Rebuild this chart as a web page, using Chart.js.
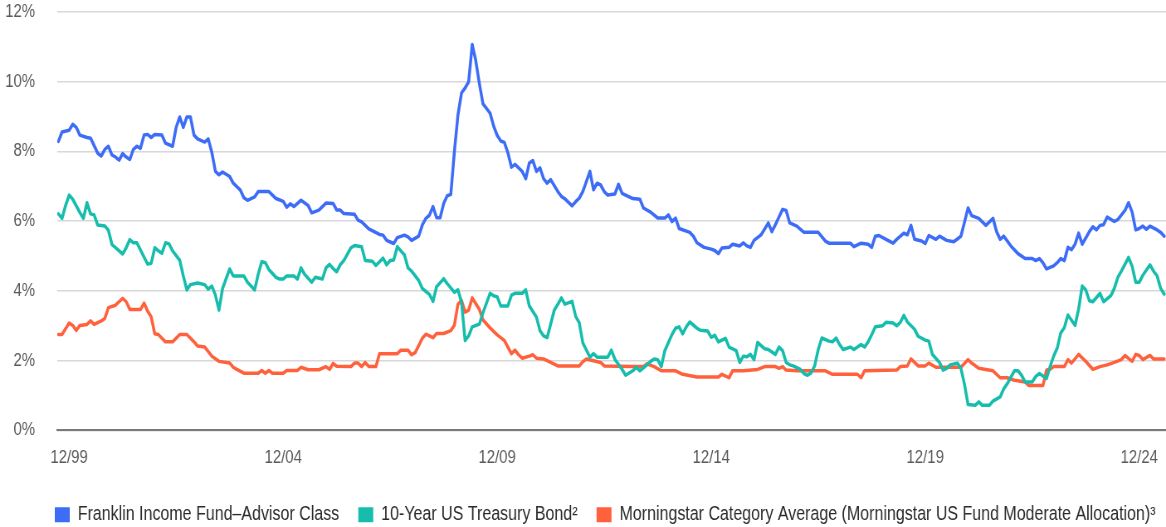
<!DOCTYPE html>
<html>
<head>
<meta charset="utf-8">
<script src="https://cdn.jsdelivr.net/npm/chart.js@4.4.1/dist/chart.umd.min.js"></script>
<style>
  html, body { margin: 0; padding: 0; background: #ffffff; overflow: hidden; }
  #c { display: block; }
</style>
</head>
<body>
<!-- bitmap is drawn wider and shown at 1166px so the text gets the same narrow look as the reference -->
<canvas id="c" width="1405" height="527" style="width:1166px;height:527px"></canvas>
<script>
// ---- Data (x = months after 12/99, y = yield in %) ----
const seriesLabels = [
  'Franklin Income Fund\u2013Advisor Class',
  '10-Year US Treasury Bond\u00B2',
  'Morningstar Category Average (Morningstar US Fund Moderate Allocation)\u00B3'
];

const fundYield = [[-3,8.29],[-2,8.56],[0,8.61],[1,8.78],[2,8.69],[3,8.47],[5,8.40],[6,8.38],[8,7.95],[9,7.87],[10,8.06],[11,8.15],[12,7.90],[13,7.84],[14,7.75],[15,7.94],[16,7.84],[17,7.77],[18,8.06],[19,8.15],[20,8.09],[21,8.47],[22,8.49],[23,8.40],[24,8.49],[26,8.47],[27,8.24],[29,8.15],[30,8.69],[31,8.99],[32,8.69],[33,8.99],[34,8.99],[35,8.47],[36,8.36],[38,8.27],[39,8.36],[40,7.97],[41,7.43],[42,7.33],[43,7.41],[45,7.28],[46,7.09],[48,6.89],[49,6.67],[50,6.60],[52,6.70],[53,6.85],[56,6.85],[57,6.75],[58,6.65],[60,6.57],[61,6.40],[62,6.50],[63,6.42],[65,6.60],[67,6.45],[68,6.24],[70,6.32],[72,6.52],[74,6.51],[75,6.32],[76,6.32],[77,6.22],[80,6.20],[81,6.03],[82,5.98],[84,5.78],[87,5.62],[88,5.60],[89,5.45],[91,5.36],[92,5.53],[94,5.60],[95,5.55],[96,5.45],[98,5.57],[99,5.89],[100,6.08],[101,6.17],[102,6.42],[103,6.10],[104,6.10],[105,6.51],[106,6.73],[107,6.77],[108,8.00],[109,9.05],[110,9.68],[111,9.82],[112,10.00],[113,11.07],[114,10.60],[115,9.95],[116,9.37],[118,9.10],[119,8.73],[120,8.46],[121,8.30],[122,8.26],[123,7.96],[124,7.55],[125,7.63],[127,7.43],[128,7.22],[129,7.67],[130,7.74],[131,7.43],[132,7.53],[133,7.22],[134,7.09],[135,7.19],[137,6.85],[138,6.71],[139,6.64],[141,6.44],[142,6.56],[143,6.66],[144,6.85],[146,7.43],[147,6.90],[148,7.09],[149,7.04],[150,6.85],[151,6.75],[153,6.78],[154,7.06],[155,6.80],[157,6.70],[158,6.65],[160,6.63],[161,6.38],[163,6.26],[165,6.09],[167,6.09],[168,6.18],[169,5.99],[170,6.09],[171,5.79],[174,5.68],[175,5.57],[176,5.38],[178,5.25],[180,5.20],[181,5.16],[182,5.07],[183,5.23],[185,5.25],[186,5.34],[188,5.29],[189,5.38],[190,5.29],[191,5.25],[192,5.45],[194,5.61],[196,5.95],[197,5.70],[198,5.90],[199,6.12],[200,6.34],[201,6.31],[202,5.95],[204,5.86],[206,5.68],[210,5.68],[212,5.43],[213,5.37],[219,5.37],[220,5.27],[222,5.37],[224,5.34],[225,5.25],[226,5.57],[227,5.59],[229,5.48],[231,5.37],[232,5.48],[234,5.66],[235,5.61],[236,5.88],[237,5.48],[239,5.43],[240,5.36],[241,5.59],[243,5.48],[244,5.57],[246,5.45],[248,5.41],[250,5.57],[251,5.97],[252,6.38],[253,6.16],[255,6.08],[257,5.88],[259,6.08],[260,5.70],[261,5.48],[262,5.57],[264,5.29],[266,5.07],[268,4.93],[270,4.93],[271,4.87],[272,4.93],[273,4.81],[274,4.63],[276,4.72],[277,4.81],[278,4.93],[279,4.87],[280,5.25],[281,5.18],[282,5.34],[283,5.66],[284,5.34],[286,5.70],[287,5.84],[288,5.75],[289,5.88],[290,5.90],[291,6.12],[293,5.99],[294,6.05],[296,6.31],[297,6.53],[298,6.26],[299,5.75],[300,5.79],[301,5.86],[302,5.77],[303,5.86],[305,5.75],[306,5.68],[307,5.57]];

const treasuryYield = [[-3,6.21],[-2,6.08],[-1,6.45],[0,6.75],[1,6.63],[3,6.25],[4,6.08],[5,6.53],[6,6.21],[7,6.18],[8,5.89],[10,5.86],[11,5.74],[12,5.33],[13,5.24],[15,5.06],[16,5.24],[17,5.47],[18,5.38],[19,5.38],[21,4.97],[22,4.77],[23,4.79],[24,5.24],[25,5.15],[26,5.08],[27,5.38],[28,5.35],[29,5.15],[31,4.88],[32,4.43],[33,4.03],[34,4.18],[36,4.23],[38,4.18],[39,4.05],[40,4.14],[41,3.88],[42,3.45],[43,4.07],[45,4.63],[46,4.43],[49,4.43],[50,4.25],[52,4.03],[53,4.48],[54,4.84],[55,4.81],[56,4.61],[58,4.39],[59,4.34],[60,4.34],[61,4.43],[63,4.43],[64,4.34],[65,4.66],[66,4.48],[68,4.25],[69,4.39],[71,4.34],[72,4.66],[73,4.76],[74,4.64],[75,4.55],[76,4.75],[77,4.87],[79,5.24],[80,5.30],[82,5.27],[83,4.87],[85,4.85],[86,4.73],[88,4.94],[89,4.75],[90,4.87],[91,4.89],[92,5.27],[94,5.03],[95,4.66],[96,4.57],[98,4.30],[99,4.07],[101,3.90],[102,3.70],[103,4.12],[105,4.35],[106,4.21],[108,3.96],[109,4.03],[110,3.68],[111,2.58],[112,2.71],[113,2.97],[115,3.05],[116,3.37],[118,3.93],[119,3.86],[120,3.83],[121,3.57],[123,3.57],[124,3.88],[125,3.93],[127,3.93],[128,4.03],[129,3.57],[131,3.25],[132,2.86],[133,2.71],[134,2.66],[136,3.45],[137,3.62],[138,3.80],[139,3.62],[141,3.70],[142,3.27],[143,3.09],[144,2.51],[146,2.10],[147,2.20],[148,2.10],[151,2.10],[152,2.30],[153,2.04],[155,1.75],[156,1.58],[158,1.71],[159,1.81],[160,1.71],[162,1.88],[163,1.98],[164,2.05],[165,2.03],[166,1.83],[167,2.29],[169,2.75],[170,2.93],[171,2.97],[172,2.77],[173,2.97],[174,3.11],[176,2.93],[177,2.87],[179,2.85],[180,2.67],[181,2.73],[182,2.54],[184,2.64],[185,2.39],[187,2.29],[188,1.95],[189,2.13],[190,2.11],[191,2.18],[192,2.03],[193,2.52],[195,2.34],[196,2.32],[198,2.18],[199,2.39],[200,2.29],[201,1.95],[202,1.88],[203,1.85],[205,1.75],[206,1.63],[207,1.58],[208,1.65],[209,1.85],[210,2.32],[211,2.65],[213,2.56],[214,2.54],[215,2.65],[216,2.46],[217,2.32],[219,2.39],[220,2.32],[221,2.39],[222,2.46],[223,2.39],[224,2.54],[225,2.75],[226,2.97],[228,3.00],[229,3.10],[231,3.08],[232,3.00],[233,3.10],[234,3.30],[235,3.11],[237,2.90],[238,2.70],[240,2.59],[241,2.56],[242,2.18],[244,1.95],[245,1.73],[246,1.78],[247,1.88],[249,1.93],[250,1.78],[251,1.32],[252,0.74],[254,0.72],[255,0.82],[256,0.72],[258,0.72],[259,0.84],[261,0.96],[262,1.19],[263,1.34],[265,1.71],[266,1.71],[267,1.58],[268,1.39],[270,1.39],[271,1.55],[272,1.63],[274,1.49],[275,1.83],[276,2.13],[277,2.36],[278,2.80],[279,2.95],[280,3.31],[282,3.01],[283,3.48],[284,4.14],[285,4.03],[286,3.72],[287,3.69],[289,3.93],[290,3.69],[292,3.86],[293,4.07],[294,4.39],[295,4.57],[297,4.96],[298,4.71],[299,4.25],[300,4.25],[301,4.45],[303,4.75],[304,4.57],[305,4.43],[306,4.07],[307,3.91]];

const categoryYield = [[-3,2.75],[-2,2.75],[0,3.08],[1,3.01],[2,2.87],[3,3.01],[5,3.04],[6,3.14],[7,3.04],[9,3.14],[10,3.21],[11,3.52],[13,3.59],[15,3.79],[16,3.69],[17,3.47],[20,3.47],[21,3.65],[22,3.42],[23,3.26],[24,2.77],[25,2.75],[27,2.54],[29,2.54],[31,2.75],[33,2.75],[35,2.54],[36,2.42],[38,2.39],[40,2.13],[42,1.98],[45,1.93],[46,1.81],[47,1.75],[49,1.64],[53,1.64],[54,1.72],[55,1.64],[56,1.72],[57,1.64],[60,1.64],[61,1.72],[64,1.72],[65,1.81],[67,1.74],[70,1.74],[72,1.83],[73,1.75],[74,1.92],[75,1.84],[79,1.83],[80,1.93],[81,1.93],[82,1.83],[83,1.95],[84,1.83],[86,1.83],[87,2.20],[92,2.20],[93,2.30],[95,2.30],[96,2.17],[97,2.23],[99,2.64],[100,2.76],[102,2.66],[103,2.78],[105,2.78],[107,2.86],[108,3.02],[109,3.62],[110,3.73],[111,3.39],[112,3.45],[113,3.80],[115,3.47],[116,3.17],[118,2.94],[120,2.74],[121,2.66],[122,2.58],[124,2.20],[125,2.30],[126,2.17],[127,2.07],[129,2.13],[130,2.17],[131,2.07],[133,2.05],[135,1.95],[137,1.85],[143,1.85],[144,1.97],[145,2.05],[147,2.00],[149,1.95],[150,1.85],[158,1.83],[161,1.83],[162,1.91],[164,1.83],[166,1.71],[170,1.71],[172,1.61],[176,1.53],[182,1.53],[183,1.61],[185,1.51],[186,1.71],[189,1.71],[193,1.75],[195,1.83],[198,1.83],[199,1.78],[200,1.83],[201,1.73],[204,1.71],[212,1.71],[214,1.61],[221,1.61],[222,1.51],[223,1.71],[232,1.73],[233,1.83],[235,1.85],[236,2.05],[238,1.85],[240,1.85],[241,1.93],[243,1.81],[250,1.81],[252,2.03],[253,1.93],[255,1.78],[259,1.71],[261,1.51],[263,1.51],[265,1.44],[268,1.39],[269,1.29],[273,1.29],[274,1.73],[275,1.75],[276,1.83],[279,1.83],[280,2.03],[281,1.93],[283,2.18],[285,1.98],[287,1.75],[289,1.83],[291,1.88],[293,1.95],[295,2.03],[296,2.15],[298,1.98],[299,2.18],[300,2.15],[301,2.03],[303,2.15],[304,2.05],[307,2.05]];

const xTickMonths = [0, 60, 120, 180, 240, 300];
const xTickLabels = ['12/99', '12/04', '12/09', '12/14', '12/19', '12/24'];
const yTickValues = [0, 2, 4, 6, 8, 10, 12];

// ---- Styling ----
const COLORS = ['#3d6cf6', '#16bdac', '#ff613d'];
const FONT = '"Liberation Sans", Arial, sans-serif';
const CLEAR = 'rgba(0,0,0,0)';
const toPoints = arr => arr.map(p => ({ x: p[0], y: p[1] }));
const allSeries = [fundYield, treasuryYield, categoryYield];

// moves the legend row to the right so that it lines up under the plot
const legendShift = {
  id: 'legendShift',
  afterLayout(chart) {
    if (chart.legend) { chart.legend.left += 43; chart.legend.right += 43; }
  }
};

new Chart(document.getElementById('c'), {
  type: 'line',
  plugins: [legendShift],
  data: {
    datasets: allSeries.map((s, i) => ({
      label: seriesLabels[i],
      data: toPoints(s),
      borderColor: COLORS[i],
      backgroundColor: COLORS[i],
      borderWidth: 3.5,
      pointRadius: 0,
      pointHoverRadius: 0,
      tension: 0,
      borderJoinStyle: 'round',
      borderCapStyle: 'round',
      fill: false
    }))
  },
  options: {
    responsive: false,
    animation: false,
    devicePixelRatio: 1,
    events: [],
    layout: { padding: { left: 0, right: 0, top: 12, bottom: -7.5 } },
    scales: {
      x: {
        type: 'linear',
        min: -3.4,
        max: 307.5,
        grid: { display: true, drawOnChartArea: false, drawTicks: true, tickLength: 16.5, tickColor: CLEAR, color: CLEAR },
        border: { display: true, color: '#7a7a7a', width: 2 },
        afterBuildTicks: axis => { axis.ticks = xTickMonths.map(v => ({ value: v })); },
        afterFit: axis => { axis.height = 51.8; },
        ticks: {
          autoSkip: false,
          maxRotation: 0,
          padding: 0,
          color: '#5a5a5a',
          font: { family: FONT, size: 18 },
          callback: v => { const i = xTickMonths.indexOf(v); return i >= 0 ? xTickLabels[i] : ''; }
        }
      },
      y: {
        type: 'linear',
        min: 0,
        max: 12,
        grid: { color: '#d8d8d8', lineWidth: 1.6, drawTicks: true, tickLength: 26.5, tickColor: CLEAR },
        border: { display: false },
        afterBuildTicks: axis => { axis.ticks = yTickValues.map(v => ({ value: v })); },
        afterFit: axis => { axis.width = 68.7; },
        ticks: {
          padding: 0,
          color: '#5a5a5a',
          font: { family: FONT, size: 18 },
          callback: v => v + '%'
        }
      }
    },
    plugins: {
      tooltip: { enabled: false },
      legend: {
        position: 'bottom',
        align: 'start',
        labels: {
          boxWidth: 18,
          boxHeight: 15,
          padding: 23,
          color: '#2b2b2b',
          font: { family: FONT, size: 19.3 },
          generateLabels: chart => chart.data.datasets.map((ds, i) => ({
            text: ds.label,
            fillStyle: ds.borderColor,
            strokeStyle: ds.borderColor,
            lineWidth: 0,
            hidden: false,
            datasetIndex: i,
            fontColor: '#2b2b2b'
          }))
        }
      }
    }
  }
});
</script>
</body>
</html>
